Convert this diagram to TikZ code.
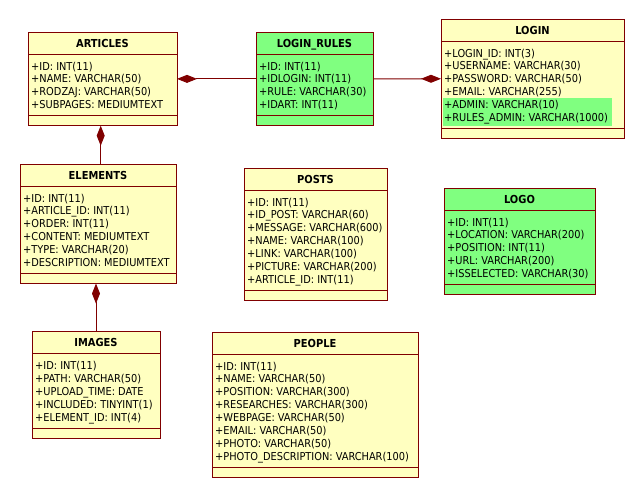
\documentclass[tikz,border=0pt]{standalone}
\usepackage{fontspec}
\setmainfont{DejaVu Sans Condensed}
\usetikzlibrary{arrows.meta}
\definecolor{ylw}{RGB}{255,255,192}
\definecolor{grn}{RGB}{128,255,128}
\definecolor{brd}{RGB}{128,0,0}
\tikzset{
  tbl/.style={draw=brd, line width=1pt, inner sep=0pt, outer sep=0pt, anchor=north west},
  yfill/.style={fill=ylw},
  gfill/.style={fill=grn},
  sepline/.style={draw=brd, line width=1pt},
  ttl/.style={font=\fontsize{11}{12}\selectfont\bfseries, anchor=base, inner sep=0pt},
  row/.style={font=\fontsize{10.9}{12}\selectfont, anchor=base west, inner sep=0pt},
  rel/.style={draw=brd, line width=1pt, {Diamond[length=20pt,width=8pt]}-},
}
\newcommand\erhook{}
\newcommand{\ertable}[8]{%
  \pgfmathsetmacro\ertW{#4-#2}%
  \pgfmathsetmacro\ertH{42.1+12.9*#5}%
  \pgfmathsetmacro\ertS{32.1+12.9*#5}%
  \node[tbl,#6,minimum width=\ertW pt,minimum height=\ertH pt] (#1) at (#2,#3) {};
  \draw[sepline] ([yshift=-22pt]#1.north west) -- ([yshift=-22pt]#1.north east);
  \draw[sepline] ([yshift=-\ertS pt]#1.north west) -- ([yshift=-\ertS pt]#1.north east);
  \erhook
  \node[ttl] (#1-title) at ([yshift=-15pt]#1.north) {#7};
  \foreach \rowtxt [count=\i] in {#8} {
    \pgfmathsetmacro\ertY{38+12.9*(\i-1)}
    \node[row] (#1-r\i) at ([xshift=3pt,yshift=-\ertY pt]#1.north west) {\rowtxt};
  }
}
\begin{document}
\begin{tikzpicture}[x=1pt,y=-1pt]
\useasboundingbox[fill=white] (0,0) rectangle (644,498);

\ertable{articles}{28}{32}{177}{4}{yfill}{ARTICLES}{+ID: INT(11),+NAME: VARCHAR(50),+RODZAJ: VARCHAR(50),+SUBPAGES: MEDIUMTEXT}
\ertable{loginrules}{256}{32}{373}{4}{gfill}{LOGIN\_RULES}{+ID: INT(11),+IDLOGIN: INT(11),+RULE: VARCHAR(30),+IDART: INT(11)}
\renewcommand\erhook{\fill[grn] ([xshift=2pt,yshift=-79pt]login.north west) rectangle ([xshift=-12pt,yshift=-107pt]login.north east);}
\ertable{login}{441}{19}{624}{6}{yfill}{LOGIN}{+LOGIN\_ID: INT(3),+USERNAME: VARCHAR(30),+PASSWORD: VARCHAR(50),+EMAIL: VARCHAR(255),+ADMIN: VARCHAR(10),+RULES\_ADMIN: VARCHAR(1000)}
\renewcommand\erhook{}
\ertable{elements}{20}{164}{176}{6}{yfill}{ELEMENTS}{+ID: INT(11),+ARTICLE\_ID: INT(11),+ORDER: INT(11),+CONTENT: MEDIUMTEXT,+TYPE: VARCHAR(20),+DESCRIPTION: MEDIUMTEXT}
\ertable{posts}{244}{168}{387}{7}{yfill}{POSTS}{+ID: INT(11),+ID\_POST: VARCHAR(60),+MESSAGE: VARCHAR(600),+NAME: VARCHAR(100),+LINK: VARCHAR(100),+PICTURE: VARCHAR(200),+ARTICLE\_ID: INT(11)}
\ertable{logo}{444}{188}{595}{5}{gfill}{LOGO}{+ID: INT(11),+LOCATION: VARCHAR(200),+POSITION: INT(11),+URL: VARCHAR(200),+ISSELECTED: VARCHAR(30)}
\ertable{images}{32}{331.5}{160}{5}{yfill}{IMAGES}{+ID: INT(11),+PATH: VARCHAR(50),+UPLOAD\_TIME: DATE,+INCLUDED: TINYINT(1),+ELEMENT\_ID: INT(4)}
\ertable{people}{212}{332}{418}{8}{yfill}{PEOPLE}{+ID: INT(11),+NAME: VARCHAR(50),+POSITION: VARCHAR(300),+RESEARCHES: VARCHAR(300),+WEBPAGE: VARCHAR(50),+EMAIL: VARCHAR(50),+PHOTO: VARCHAR(50),+PHOTO\_DESCRIPTION: VARCHAR(100)}

\draw[rel] (articles.east) -- (loginrules.west);
\draw[rel] (login.west) -- (loginrules.east);
\draw[rel] ([xshift=-1.8pt]articles.south) -- ([xshift=-1.8pt]articles.south |- elements.north);
\draw[rel] ([xshift=-2pt]elements.south) -- ([xshift=-2pt]elements.south |- images.north);
\end{tikzpicture}
\end{document}
